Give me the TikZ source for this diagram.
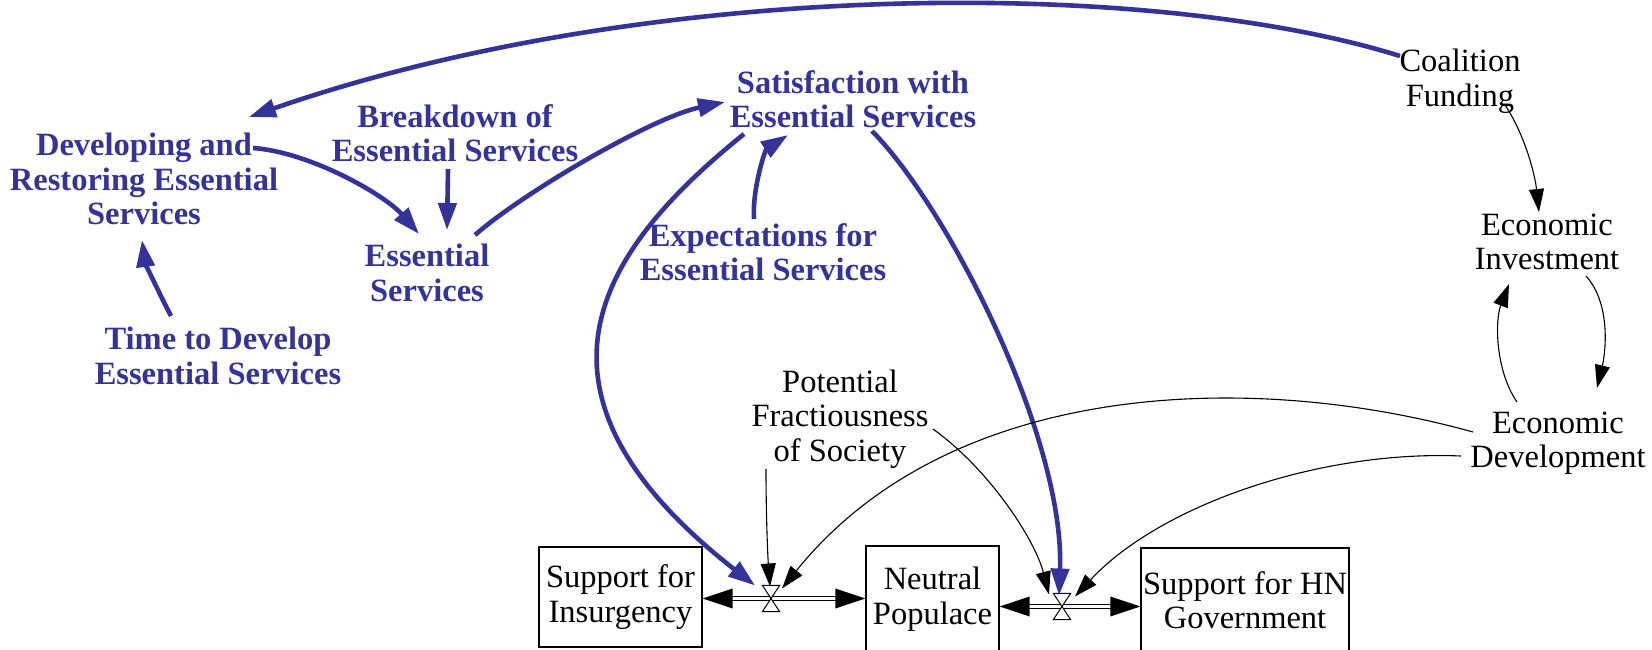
\documentclass[tikz,border=0pt]{standalone}
\usepackage{fontspec}
\setmainfont{Liberation Serif}
\usetikzlibrary{arrows.meta,calc}
\definecolor{vblue}{RGB}{51,51,153}
\begin{document}
\begin{tikzpicture}[x=1pt,y=-1pt,
  bv/.style={font=\fontsize{32.5}{34.5}\selectfont\bfseries, text=vblue, align=center, inner sep=0pt},
  kv/.style={font=\fontsize{32.5}{34.5}\selectfont, align=center, inner sep=0pt},
  stock/.style={draw, line width=1.3pt, font=\fontsize{32.5}{34.5}\selectfont, align=center, inner sep=0pt},
  valve/.style={minimum width=17pt, minimum height=26pt, inner sep=0pt},
  barrow/.style={draw=vblue, line width=4.6pt, -{Triangle[length=27pt,width=18pt]}},
  karrow/.style={draw=black, line width=1.1pt, -{Triangle[length=23pt,width=15pt]}},
  pipe/.style={double, double distance=3.6pt, line width=1.1pt}
]
\useasboundingbox (0,0) rectangle (1652,649);

% variables
\node[bv] (dev) at (144,179) {Developing and\\Restoring Essential\\Services};
\node[bv] (brk) at (455,133) {Breakdown of\\Essential Services};
\node[bv] (sat) at (853,99) {Satisfaction with\\Essential Services};
\node[bv] (ess) at (427,273) {Essential\\Services};
\node[bv] (exp) at (763,252) {Expectations for\\Essential Services};
\node[bv] (time) at (218,356) {Time to Develop\\Essential Services};
\node[kv] (cf) at (1460,81) {Coalition\\Funding};
\node[kv] (ei) at (1547,242) {Economic\\Investment};
\node[kv] (ed) at (1558,443) {Economic\\Development};
\node[kv] (pf) at (840,419) {Potential\\Fractiousness\\of Society};

% stocks
\node[stock, minimum width=163pt, minimum height=100pt] (sfi) at (620.5,597) {Support for\\Insurgency};
\node[stock, minimum width=133pt, minimum height=106pt] (np) at (932.5,599) {Neutral\\Populace};
\node[stock, minimum width=208pt, minimum height=104pt] (hn) at (1245,600) {Support for HN\\Government};

% valves
\node[valve] (v1) at (771,598.5) {};
\node[valve] (v2) at (1062,606.5) {};

% pipes
\draw[pipe, shorten <=29pt, shorten >=29pt] (sfi.east |- v1) -- (np.west |- v1);
\fill (sfi.east |- v1) -- ++(30,-10) -- ++(0,20) -- cycle;
\fill (np.west |- v1) -- ++(-30,-10) -- ++(0,20) -- cycle;
\draw[pipe, shorten <=29pt, shorten >=29pt] (np.east |- v2) -- (hn.west |- v2);
\fill (np.east |- v2) -- ++(30,-10) -- ++(0,20) -- cycle;
\fill (hn.west |- v2) -- ++(-30,-10) -- ++(0,20) -- cycle;
\draw[line width=1pt, fill=white] (v1.north west) -- (v1.north east) -- (v1.south west) -- (v1.south east) -- cycle;
\draw[line width=1pt, fill=white] (v2.north west) -- (v2.north east) -- (v2.south west) -- (v2.south east) -- cycle;

% blue links
\draw[barrow] ($(cf)+(-60,-25)$) .. controls (1150,-22) and (650,-22) .. ($(dev)+(105,-62)$);
\draw[barrow] ($(dev)+(109,-31)$) .. controls (310,152) and (385,195) .. ($(ess)+(-8,-39)$);
\draw[barrow] ($(brk)+(-7,36)$) -- ($(ess)+(20,-43)$);
\draw[barrow] ($(ess)+(48,-38)$) .. controls (520,195) and (650,118) .. ($(sat)+(-128,3)$);
\draw[barrow] ($(time)+(-47,-40)$) .. controls (155,285) and (145,262) .. ($(dev)+(-2,61)$);
\draw[barrow] ($(exp)+(-9,-33)$) .. controls (752,190) and (765,150) .. ($(sat)+(-65,36)$);
\draw[barrow] ($(sat)+(-109,35)$) .. controls (600,250) and (505,390) .. ($(v1)+(-16,-13)$);
\draw[barrow] ($(sat)+(19,32)$) .. controls (950,210) and (1065,440) .. ($(v2)+(-3,-11)$);

% black links
\draw[karrow] ($(cf)+(45,24)$) .. controls (1525,135) and (1535,175) .. ($(ei)+(-8,-30)$);
\draw[karrow] ($(ei)+(39,34)$) .. controls (1612,305) and (1605,355) .. ($(ed)+(39,-55)$);
\draw[karrow] ($(ed)+(-41,-41)$) .. controls (1495,370) and (1495,320) .. ($(ei)+(-38,42)$);
\draw[karrow] ($(ed)+(-85,-11)$) .. controls (1250,370) and (950,380) .. ($(v1)+(11,-10)$);
\draw[karrow] ($(ed)+(-97,13)$) .. controls (1320,450) and (1160,505) .. ($(v2)+(13,-10)$);
\draw[karrow] ($(pf)+(-74,50)$) .. controls (766,520) and (768,560) .. ($(v1)+(-1,-12)$);
\draw[karrow] ($(pf)+(93,10)$) .. controls (990,470) and (1035,540) .. ($(v2)+(-13,-12)$);
\end{tikzpicture}
\end{document}
